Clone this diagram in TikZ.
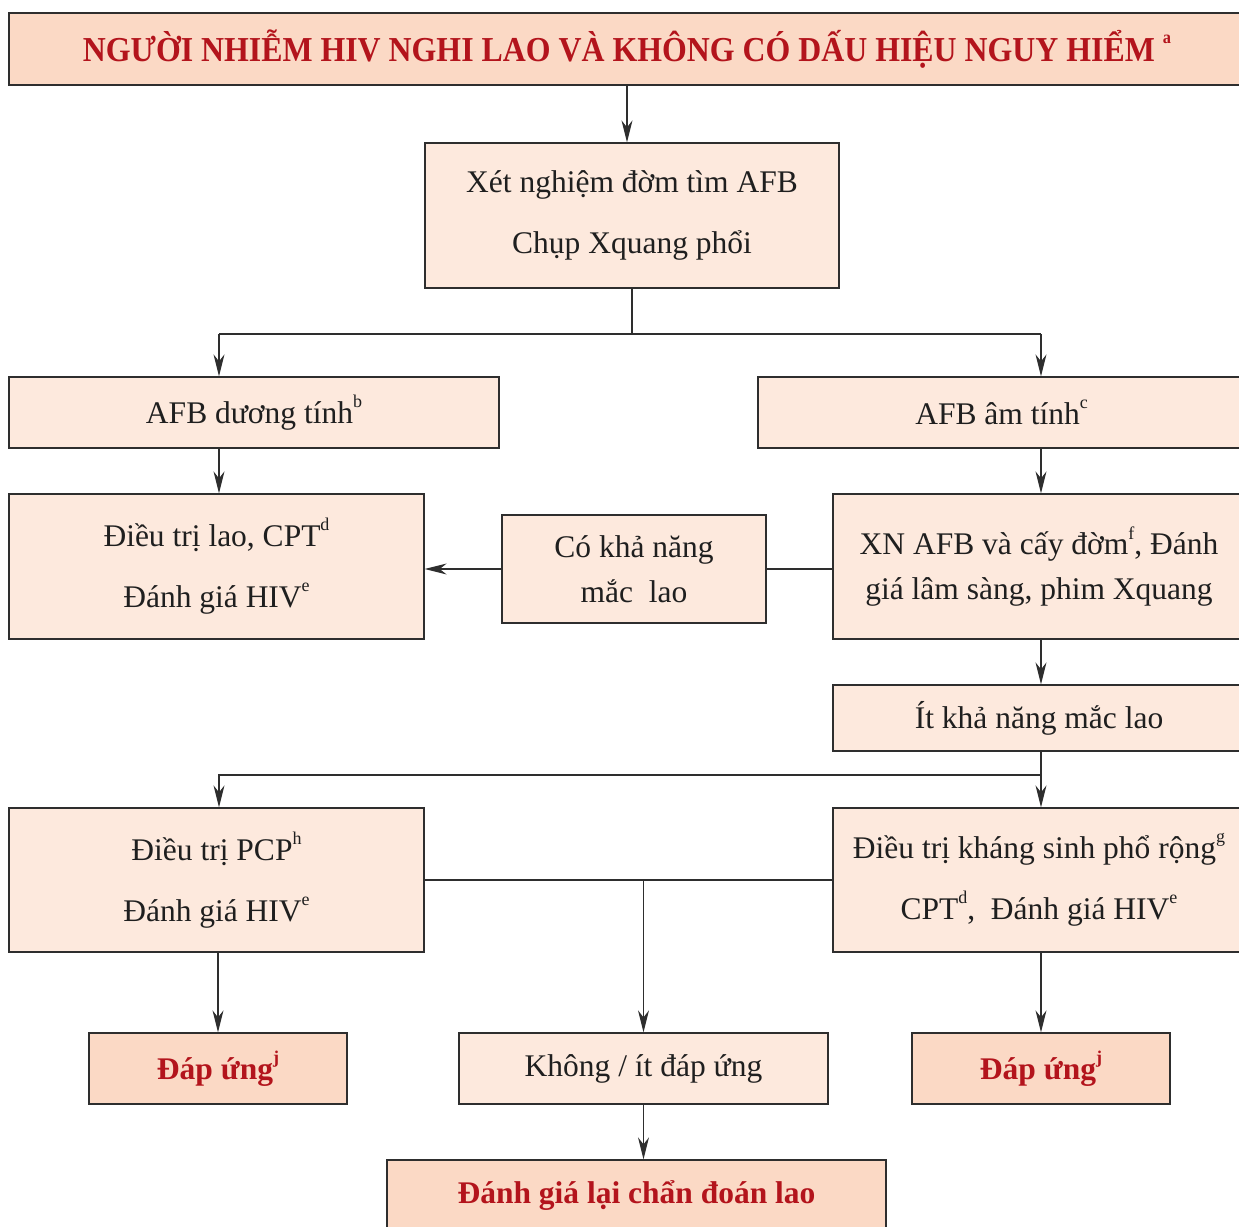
\documentclass[tikz,border=0pt]{standalone}
\usepackage{fontspec}
\setmainfont{Liberation Serif}
\newfontfamily\narrowfont[FakeStretch=0.91]{Liberation Serif}
\usetikzlibrary{arrows.meta}

\definecolor{peach}{HTML}{FDE9DD}
\definecolor{peachdark}{HTML}{FBD9C5}
\definecolor{redtext}{HTML}{B3141C}
\definecolor{linegray}{HTML}{2E2E2E}
\newcommand\supl[1]{\raisebox{0.5em}{\fontsize{18}{18}\selectfont #1}}

\begin{document}
\begin{tikzpicture}[
  x=1pt, y=-1pt,
  box/.style={
    draw=linegray, line width=1.3pt, fill=peach, align=center,
    inner sep=0pt, text=black!88, font=\fontsize{31.5}{61}\selectfont
  },
  tightbox/.style={box, font=\fontsize{31.5}{45}\selectfont},
  keybox/.style={box, fill=peachdark, text=redtext,
                 font=\fontsize{31.5}{36}\selectfont\bfseries},
  arr/.style={-{Stealth[length=22pt, width=11pt, inset=7pt]},
              draw=linegray, line width=1.3pt},
  link/.style={draw=linegray, line width=1.3pt}
]
\useasboundingbox (0,0) rectangle (1239,1226);
\clip (0,0) rectangle (1239,1226);

%--- Boxes (pixel grid of the page) ---
\node[keybox, minimum width=1236, minimum height=72,
      font=\fontsize{35}{40}\selectfont\narrowfont\bfseries]
                                (title)   at (627, 49)    {NGƯỜI NHIỄM HIV NGHI LAO VÀ KHÔNG CÓ DẤU HIỆU NGUY HIỂM \supl{a}};
\node[box, minimum width=414, minimum height=145]
                                (xn)      at (632, 215.5) {Xét nghiệm đờm tìm AFB\\Chụp Xquang phổi};

\node[box, minimum width=490, minimum height=71]
                                (afbpos)  at (254, 412.5) {AFB dương tính\supl{b}};
\node[box, minimum width=487, minimum height=71]
                                (afbneg)  at (1001.5, 412.5) {AFB âm tính\supl{c}};

\node[box, minimum width=415, minimum height=145]
                                (dtlao)   at (216.5, 566.5) {Điều trị lao, CPT\supl{d}\\Đánh giá HIV\supl{e}};
\node[tightbox, minimum width=264, minimum height=108]
                                (cokha)   at (634, 569)   {Có khả năng\\mắc~ lao};
\node[tightbox, minimum width=412, minimum height=145]
                                (xnafb)   at (1039, 566.5) {XN AFB và cấy đờm\supl{f}, Đánh\\giá lâm sàng, phim Xquang};

\node[box, minimum width=412, minimum height=66]
                                (itkha)   at (1039, 718)  {Ít khả năng mắc lao};

\node[box, minimum width=415, minimum height=144]
                                (pcp)     at (216.5, 880) {Điều trị PCP\supl{h}\\Đánh giá HIV\supl{e}};
\node[box, minimum width=412, minimum height=144]
                                (ks)      at (1039, 880)  {Điều trị kháng sinh phổ rộng\supl{g}\\CPT\supl{d},~ Đánh giá HIV\supl{e}};

\node[keybox, minimum width=258, minimum height=71]
                                (dapl)    at (218, 1068.5) {Đáp ứng\supl{j}};
\node[box, minimum width=369, minimum height=71]
                                (khong)   at (643.5, 1068.5) {Không / ít đáp ứng};
\node[keybox, minimum width=258, minimum height=71]
                                (dapr)    at (1041, 1068.5) {Đáp ứng\supl{j}};

\node[keybox, minimum width=499, minimum height=72]
                                (danhgia) at (636.5, 1196) {Đánh giá lại chẩn đoán lao};

%--- Branch points ---
\coordinate (splitA) at (632, 334);
\coordinate (splitL) at (219, 334);
\coordinate (splitR) at (1041, 334);
\coordinate (splitB) at (1041, 775);

%--- Connectors ---
\draw[arr]  (title.south) -- (title.south |- xn.north);
\draw[link] (xn.south) -- (splitA);
\draw[link] (splitL) -- (splitR);
\draw[arr]  (splitL) -- (splitL |- afbpos.north);
\draw[arr]  (splitR) -- (splitR |- afbneg.north);

\draw[arr]  (splitL |- afbpos.south) -- (splitL |- dtlao.north);
\draw[arr]  (splitR |- afbneg.south) -- (splitR |- xnafb.north);

\draw[link] (xnafb.west |- cokha.east) -- (cokha.east);
\draw[arr]  (cokha.west) -- (cokha.west -| dtlao.east);

\draw[arr]  (splitR |- xnafb.south) -- (splitR |- itkha.north);
\draw[link] (splitB |- itkha.south) -- (splitB);
\draw[arr]  (splitB) -- (splitB |- ks.north);
\draw[arr]  (splitB) -| (splitL |- pcp.north);

\draw[link] (pcp.east) -- (ks.west);
\draw[arr]  (pcp.east -| khong.north) -- (khong.north);
\draw[arr]  (pcp.south -| dapl.north) -- (dapl.north);
\draw[arr]  (ks.south -| dapr.north) -- (dapr.north);
\draw[arr]  (khong.south) -- (khong.south |- danhgia.north);

\end{tikzpicture}
\end{document}
